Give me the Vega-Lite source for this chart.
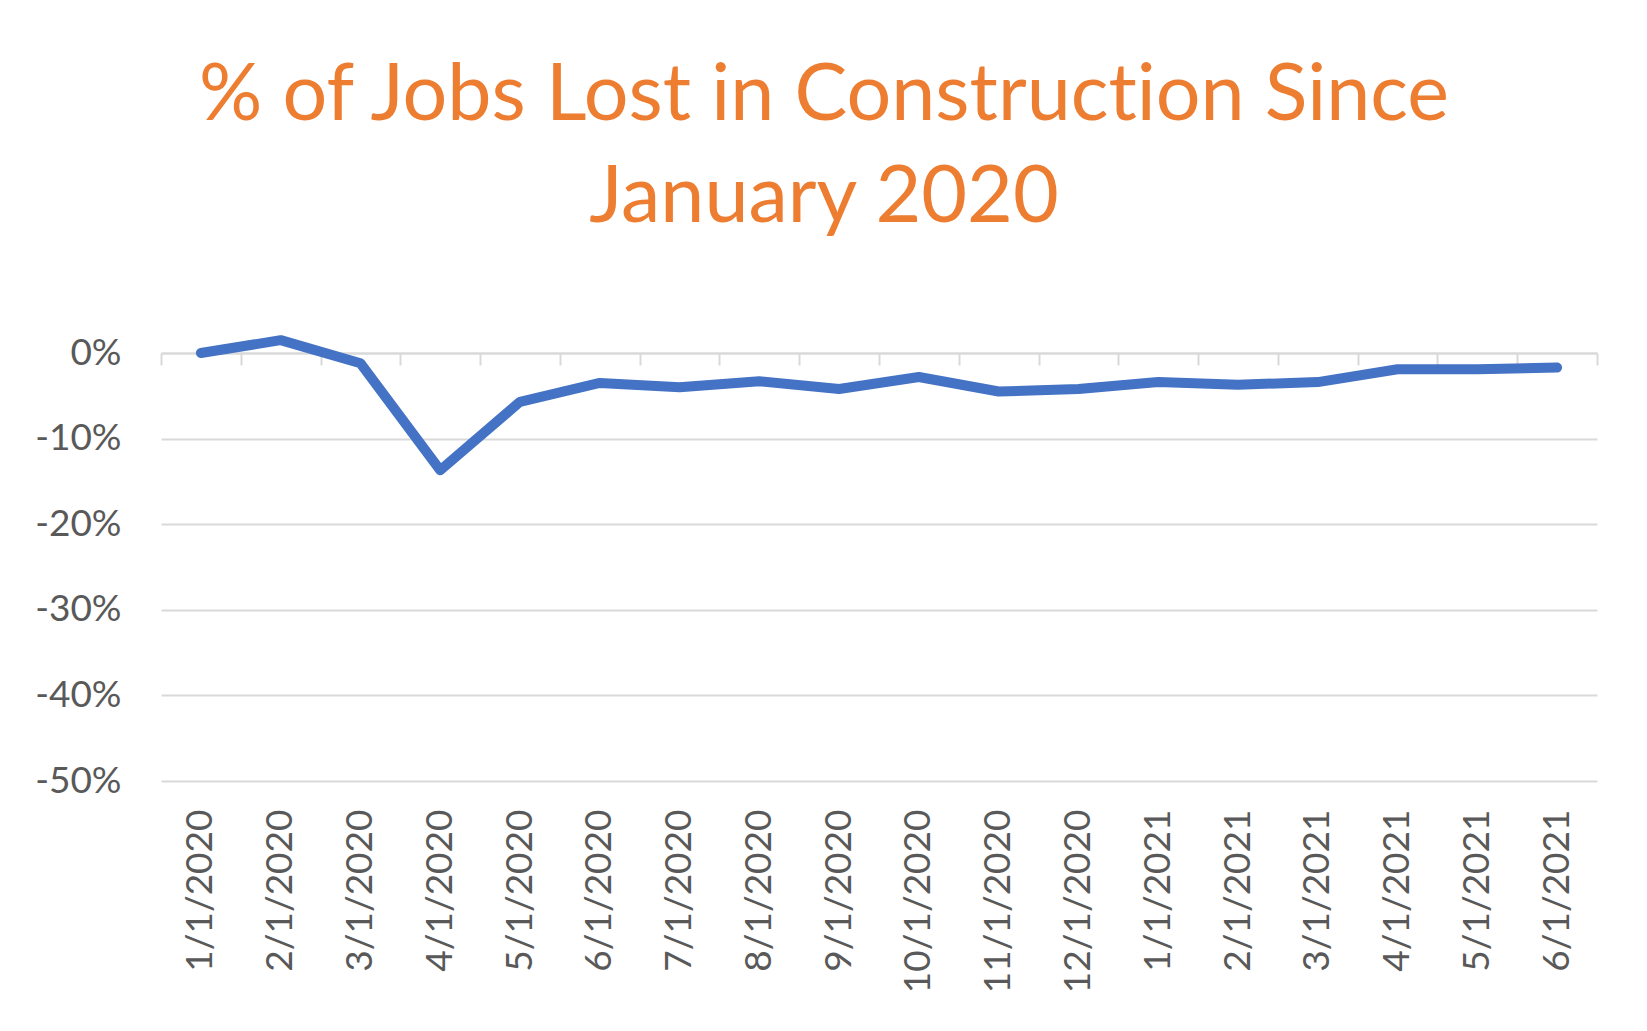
{
  "$schema": "https://vega.github.io/schema/vega-lite/v6.json",
  "width": 1436,
  "height": 428,
  "autosize": {"type": "none"},
  "padding": {"left": 161, "top": 353, "right": 50, "bottom": 250},
  "background": "#ffffff",
  "title": {
    "text": ["% of Jobs Lost in Construct\u200cion Since", "January 2020"],
    "font": "Lato",
    "fontSize": 79,
    "fontWeight": "normal",
    "color": "#ED7D31",
    "lineHeight": 102,
    "anchor": "middle",
    "dx": -55,
    "offset": 33,
    "baseline": "alphabetic"
  },
  "data": {
    "values": [
      {"date": "1/1/2020", "pct": 0.0},
      {"date": "2/1/2020", "pct": 0.015},
      {"date": "3/1/2020", "pct": -0.012},
      {"date": "4/1/2020", "pct": -0.137},
      {"date": "5/1/2020", "pct": -0.057},
      {"date": "6/1/2020", "pct": -0.035},
      {"date": "7/1/2020", "pct": -0.040},
      {"date": "8/1/2020", "pct": -0.033},
      {"date": "9/1/2020", "pct": -0.042},
      {"date": "10/1/2020", "pct": -0.028},
      {"date": "11/1/2020", "pct": -0.045},
      {"date": "12/1/2020", "pct": -0.042},
      {"date": "1/1/2021", "pct": -0.034},
      {"date": "2/1/2021", "pct": -0.037},
      {"date": "3/1/2021", "pct": -0.034},
      {"date": "4/1/2021", "pct": -0.019},
      {"date": "5/1/2021", "pct": -0.019},
      {"date": "6/1/2021", "pct": -0.017}
    ]
  },
  "mark": {"type": "line", "color": "#4472C4", "strokeWidth": 10, "strokeCap": "round", "strokeJoin": "round", "clip": false},
  "encoding": {
    "x": {
      "field": "date",
      "type": "nominal",
      "sort": null,
      "bandPosition": 0.5,
      "scale": {"type": "band", "paddingInner": 0, "paddingOuter": 0},
      "axis": {
        "title": null,
        "orient": "bottom",
        "offset": -428,
        "domain": true,
        "domainColor": "#D9D9D9",
        "domainWidth": 2,
        "ticks": true,
        "tickBand": "extent",
        "tickColor": "#D9D9D9",
        "tickWidth": 2,
        "tickSize": 12,
        "labelAngle": -90,
        "labelAlign": "right",
        "labelBaseline": "middle",
        "labelPadding": 444,
        "labelLimit": 0,
        "labelFont": "Lato",
        "labelFontSize": 37,
        "labelColor": "#595959",
        "grid": false
      }
    },
    "y": {
      "field": "pct",
      "type": "quantitative",
      "scale": {"domain": [-0.5, 0], "nice": false, "zero": false},
      "axis": {
        "title": null,
        "values": [-0.5, -0.4, -0.3, -0.2, -0.1, 0],
        "labelExpr": "(datum.value < 0 ? '-' : '') + format(abs(datum.value), '.0%')",
        "domain": false,
        "ticks": false,
        "grid": true,
        "gridColor": "#D9D9D9",
        "gridWidth": 2,
        "labelPadding": 40,
        "labelFont": "Lato",
        "labelFontSize": 37,
        "labelColor": "#595959"
      }
    }
  },
  "config": {"view": {"stroke": null}}
}
